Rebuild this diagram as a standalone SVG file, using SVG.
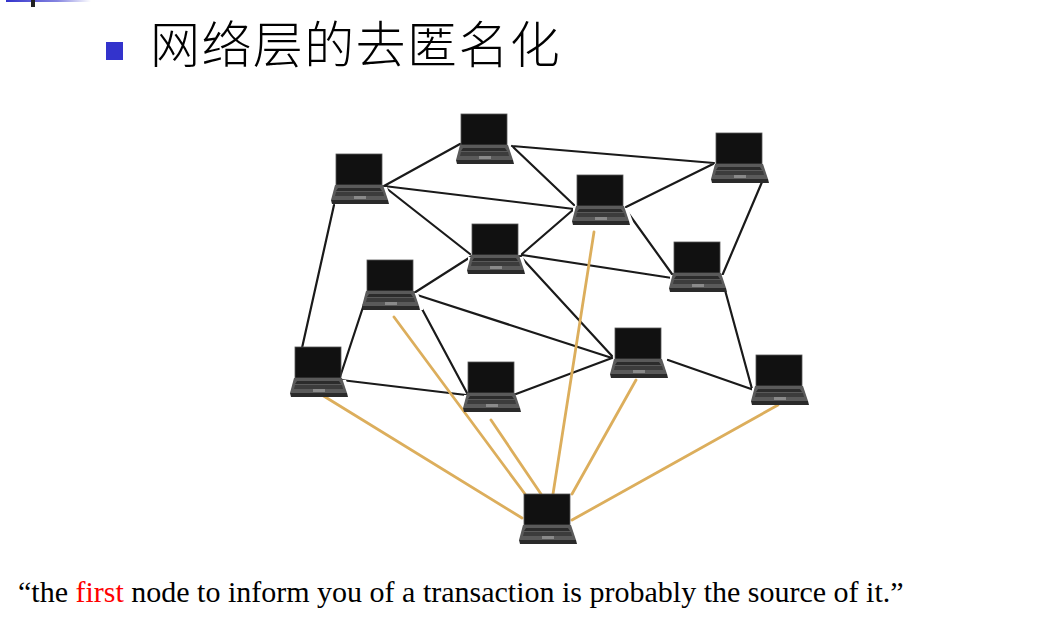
<svg xmlns="http://www.w3.org/2000/svg" width="1041" height="618" viewBox="0 0 1041 618">
<style>
.k{stroke:#1a1a1a;stroke-width:2.2;stroke-linecap:round;fill:none}
.o{stroke:#dcae5c;stroke-width:2.8;stroke-linecap:round;fill:none}
.cap{font-family:"Liberation Serif",serif;font-size:30px;fill:#000}
.tt{font-family:"Noto Sans CJK SC","Noto Sans CJK JP",sans-serif;font-size:50px;font-weight:300;fill:#000;letter-spacing:1.4px}
</style>
<defs>
<linearGradient id="bar" x1="0" x2="1" y1="0" y2="0"><stop offset="0" stop-color="#3333cc"/><stop offset="0.6" stop-color="#3333cc" stop-opacity="0.6"/><stop offset="1" stop-color="#3333cc" stop-opacity="0"/></linearGradient>
<g id="lap">
<path d="M-4 33L51 33L56 47L56 50L-4 50Z" fill="#fff"/>
<rect x="0" y="0" width="46" height="31" fill="#111" stroke="#555" stroke-width="0.8"/>
<path d="M-1 31L47 31L52 46L-5 46Z" fill="#5a5a5a"/>
<path d="M2 34L44 34L46 37L0 37Z" fill="#2c2c2c"/>
<path d="M0 38L47 38L48 42L-1 42Z" fill="#3c3c3c"/>
<rect x="18" y="42" width="12" height="3" fill="#8a8a8a"/>
<path d="M-5 46L52 46L53 50L-4 50Z" fill="#2a2a2a"/>
</g>
</defs>
<rect width="1041" height="618" fill="#fff"/>
<rect x="6" y="0" width="85" height="2" fill="url(#bar)"/>
<rect x="31" y="0" width="4" height="7" fill="#222"/>
<rect x="106" y="42" width="17" height="18" fill="#3333cc"/>
<text class="tt" x="150" y="63">网络层的去匿名化</text>
<g id="connectors">
<path class="k" d="M384 186L460 144M384 186L574 209M386 188L470 254M512 146L714 163M512 146L574 205M626 207L713 164M626 210L672 274M574 209L522 254M522 255L672 278M762 182L722 276M334 205L302 348M414 293L472 256M414 294L612 358M414 294L467 393M368 292L339 380M341 380L466 395M516 394L612 358M520 256L612 356M725 290L752 389M668 360L754 390"/>
<path class="o" d="M322 395L522 518M394 317L525 494M491 420L541 494M594 232L553 494M636 380L572 494M778 405L572 520"/>
</g>
<g id="n1"><use href="#lap" x="336" y="154"/></g>
<g id="n2"><use href="#lap" x="461" y="114"/></g>
<g id="n3"><use href="#lap" x="716" y="133"/></g>
<g id="n4"><use href="#lap" x="577" y="175"/></g>
<g id="n5"><use href="#lap" x="472" y="224"/></g>
<g id="n6"><use href="#lap" x="674" y="242"/></g>
<g id="n7"><use href="#lap" x="367" y="260"/></g>
<g id="n8"><use href="#lap" x="615" y="328"/></g>
<g id="n9"><use href="#lap" x="295" y="347"/></g>
<g id="n10"><use href="#lap" x="468" y="362"/></g>
<g id="n11"><use href="#lap" x="756" y="355"/></g>
<g id="n12"><use href="#lap" x="524" y="494"/></g>
<text class="cap" x="18" y="602">“the <tspan fill="#ff0000">first</tspan> node to inform you of a transaction is probably the source of it.”</text>
</svg>
